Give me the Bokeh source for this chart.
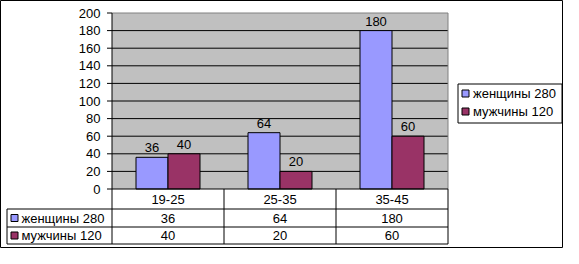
from bokeh.plotting import figure
from bokeh.models import Range1d
from bokeh.core.properties import value
from bokeh.embed import file_html
from bokeh.resources import INLINE

# ---- data ----
categories = ["19-25", "25-35", "35-45"]
women = [36, 64, 180]
men = [40, 20, 60]
series_names = ["женщины 280", "мужчины 120"]
series_colors = ["#9999FF", "#993366"]
y_ticks = [0, 20, 40, 60, 80, 100, 120, 140, 160, 180, 200]

# ---- layout (page pixel coordinates of the reference) ----
W, H = 563, 248
OX, OY = 8, 8
PLOT_L, PLOT_R = 119.5, 455.5
PLOT_T, PLOT_B = 20.5, 196.5
YMAX = 200
n = len(categories)
xpx = (PLOT_R - PLOT_L) / n
ypx = (PLOT_B - PLOT_T) / YMAX


def X(px):
    return (px - PLOT_L) / xpx


def Y(py):
    return (PLOT_B - py) / ypx


FONT = value("Liberation Sans")
FS = "13px"

p = figure(width=W, height=H, output_backend="svg", toolbar_location=None,
           x_range=Range1d(X(OX), X(OX + W)), y_range=Range1d(Y(OY + H), Y(OY)),
           x_axis_location=None, y_axis_location=None, min_border=0)
p.background_fill_color = "white"
p.border_fill_color = "white"
p.outline_line_color = "black"
p.outline_line_width = 1
p.xgrid.visible = False
p.ygrid.visible = False

# plot area
p.quad(left=[0], right=[n], bottom=[0], top=[YMAX], fill_color="#C0C0C0", line_color=None)
grid_vals = [t for t in y_ticks if 0 < t < YMAX]
p.segment(x0=[0] * len(grid_vals), x1=[n] * len(grid_vals), y0=grid_vals, y1=grid_vals,
          line_color="black", line_width=1)
p.line([0, n, n], [YMAX, YMAX, 0], line_color="#808080", line_width=1)

# bars
bw = 32 / xpx
label_gap = 9.5 / ypx
xs = [i + 0.5 for i in range(n)]
for k, (vals, col) in enumerate(zip([women, men], series_colors)):
    off = (-0.5 if k == 0 else 0.5) * bw
    bx = [x + off for x in xs]
    p.vbar(x=bx, width=bw, bottom=0, top=vals, fill_color=col, line_color="black", line_width=1)
    p.text(x=bx, y=[v + label_gap for v in vals], text=[str(v) for v in vals],
           text_align="center", text_baseline="middle", text_font=FONT,
           text_font_size=FS, text_color="black")

# axes lines and ticks
y_row1, y_row2, y_row3 = Y(216.5), Y(234.5), Y(251.5)
p.segment(x0=[0], x1=[0], y0=[YMAX], y1=[y_row3], line_color="black")
p.segment(x0=[0], x1=[n], y0=[0], y1=[0], line_color="black")
p.segment(x0=[X(114.5)] * len(y_ticks), x1=[0] * len(y_ticks), y0=y_ticks, y1=y_ticks,
          line_color="black")
p.text(x=[X(108)] * len(y_ticks), y=y_ticks, text=[str(t) for t in y_ticks],
       text_align="right", text_baseline="middle", text_font=FONT, text_font_size=FS,
       text_color="black")

# data table
xl = X(14.5)
p.segment(x0=[xl] * 3, x1=[n] * 3, y0=[y_row1, y_row2, y_row3], y1=[y_row1, y_row2, y_row3],
          line_color="black")
p.segment(x0=list(range(1, n + 1)), x1=list(range(1, n + 1)), y0=[0] * n, y1=[y_row3] * n,
          line_color="black")
p.segment(x0=[xl], x1=[xl], y0=[y_row1], y1=[y_row3], line_color="black")
p.text(x=xs, y=[(0 + y_row1) / 2] * n, text=categories, text_align="center",
       text_baseline="middle", text_font=FONT, text_font_size=FS, text_color="black")
row_mid = [(y_row1 + y_row2) / 2, (y_row2 + y_row3) / 2]
for vals, ym in zip([women, men], row_mid):
    p.text(x=xs, y=[ym] * n, text=[str(v) for v in vals], text_align="center",
           text_baseline="middle", text_font=FONT, text_font_size=FS, text_color="black")
sq = 7
p.quad(left=[X(18.5)] * 2, right=[X(18.5 + sq)] * 2,
       bottom=[m - sq / 2 / ypx for m in row_mid], top=[m + sq / 2 / ypx for m in row_mid],
       fill_color=series_colors, line_color="black")
p.text(x=[X(29)] * 2, y=row_mid, text=series_names, text_align="left",
       text_baseline="middle", text_font=FONT, text_font_size=FS, text_color="black")

# legend
p.quad(left=[X(465.5)], right=[X(569.5)], top=[Y(91.5)], bottom=[Y(130.5)],
       fill_color="white", line_color="black")
leg_mid = [Y(101), Y(119)]
p.quad(left=[X(469.5)] * 2, right=[X(469.5 + sq)] * 2,
       bottom=[m - sq / 2 / ypx for m in leg_mid], top=[m + sq / 2 / ypx for m in leg_mid],
       fill_color=series_colors, line_color="black")
p.text(x=[X(480.5)] * 2, y=leg_mid, text=series_names, text_align="left",
       text_baseline="middle", text_font=FONT, text_font_size=FS, text_color="black")

open("out.html", "w").write(file_html(p, INLINE))
